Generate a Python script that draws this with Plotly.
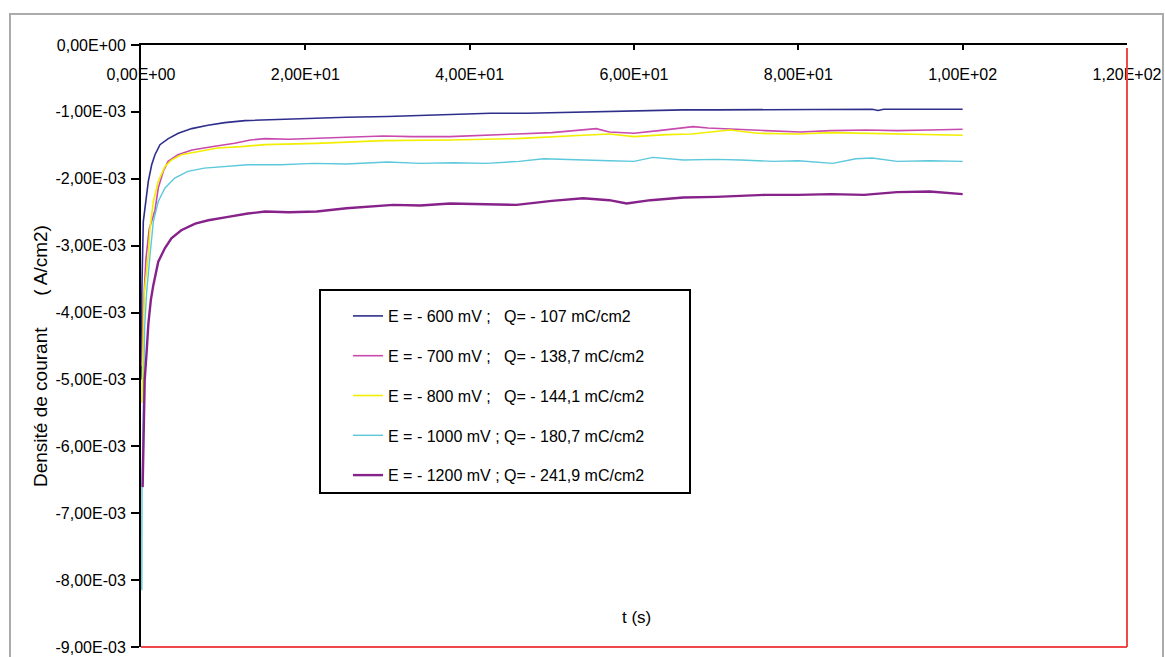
import plotly.graph_objects as go

# ---- data (current density in units of 1e-3 A/cm2) ----
t_600 = [0.05, 0.1, 0.28, 0.69, 0.89, 1.3, 1.7, 2.31, 3.32, 4.54, 6.17, 8.15, 10.2, 12.65, 15.1, 18, 21.4, 25, 30, 34.8,
         38, 42.5, 47, 53.8, 57, 62, 66, 70, 75, 80, 85, 89, 89.7, 90.4, 95, 100]
j_600 = [-5.0, -3.69, -2.64, -2.24, -2.04, -1.79, -1.64, -1.49, -1.40, -1.32, -1.25, -1.20, -1.16, -1.13, -1.12, -1.10,
         -1.09, -1.08, -1.07, -1.05, -1.04, -1.02, -1.02, -1.00, -0.99, -0.98, -0.97, -0.97, -0.97, -0.96, -0.96, -0.96,
         -0.98, -0.96, -0.96, -0.96]

t_700 = [0.1, 0.3, 0.6, 1.0, 1.7, 2.1, 2.7, 3.3, 4.5, 6.2, 8.6, 11.4, 13.3, 15.1, 18, 21.4, 25, 29.5, 33, 37.6, 41,
         45.7, 50, 55.4, 57, 60, 63, 67.2, 69, 72, 76, 80.2, 84, 88.3, 92, 96, 100]
j_700 = [-4.8, -3.9, -3.2, -2.75, -2.47, -2.14, -1.89, -1.74, -1.64, -1.57, -1.52, -1.47, -1.42, -1.40, -1.41, -1.40,
         -1.38, -1.36, -1.37, -1.37, -1.35, -1.33, -1.31, -1.25, -1.30, -1.32, -1.28, -1.22, -1.24, -1.26, -1.28, -1.30,
         -1.28, -1.27, -1.28, -1.27, -1.26]

t_800 = [0.1, 0.2, 0.3, 0.4, 0.89, 1.1, 1.5, 2.1, 2.9, 3.7, 4.9, 6.9, 9.3, 12.2, 15.1, 21.4, 29.5, 37.6, 45.7, 53.8,
         57, 60, 64, 67, 71.7, 75, 80, 84, 88, 92, 96, 100]
j_800 = [-5.35, -4.8, -4.2, -3.7, -3.14, -2.74, -2.34, -2.04, -1.82, -1.72, -1.64, -1.59, -1.54, -1.52, -1.49, -1.47,
         -1.43, -1.42, -1.40, -1.35, -1.33, -1.37, -1.34, -1.33, -1.27, -1.32, -1.33, -1.31, -1.32, -1.33, -1.34, -1.35]

t_1000 = [0.1, 0.12, 0.45, 0.6, 0.69, 1.1, 1.5, 2.1, 2.9, 4.1, 5.7, 7.7, 10.2, 13, 17, 21, 25, 30, 34, 38, 42, 46, 49,
          53, 57, 60, 62.3, 66, 70, 73, 77, 80, 84.2, 87, 89, 92, 96, 100]
j_1000 = [-8.15, -6.6, -4.21, -3.76, -3.69, -3.14, -2.64, -2.34, -2.14, -1.99, -1.89, -1.84, -1.82, -1.79, -1.79, -1.77,
          -1.78, -1.75, -1.77, -1.76, -1.77, -1.74, -1.70, -1.72, -1.73, -1.74, -1.68, -1.72, -1.71, -1.72, -1.74, -1.73,
          -1.77, -1.70, -1.69, -1.74, -1.73, -1.74]

t_1200 = [0.2, 0.3, 0.45, 0.7, 0.9, 1.2, 1.5, 2.1, 2.9, 3.7, 4.9, 6.6, 8.2, 10.6, 13.0, 15.1, 18, 21.4, 25, 30.7, 34,
          37.6, 41, 45.7, 50, 53.8, 57, 59.1, 62, 66, 70, 76.1, 80, 84, 88, 92, 96, 100]
j_1200 = [-6.61, -5.75, -5.01, -4.56, -4.16, -3.81, -3.59, -3.24, -3.04, -2.89, -2.77, -2.67, -2.62, -2.57, -2.52, -2.49,
          -2.50, -2.49, -2.44, -2.39, -2.40, -2.37, -2.38, -2.39, -2.33, -2.29, -2.32, -2.37, -2.32, -2.28, -2.27, -2.24,
          -2.24, -2.23, -2.24, -2.20, -2.19, -2.23]

NB = "\u00a0"
names = [
    "E = - 600 mV" + NB + ";" + NB * 3 + "Q= - 107 mC/cm2",
    "E = - 700 mV" + NB + ";" + NB * 3 + "Q= - 138,7 mC/cm2",
    "E = - 800 mV" + NB + ";" + NB * 3 + "Q= - 144,1 mC/cm2",
    "E = - 1000 mV ; Q= - 180,7 mC/cm2",
    "E = - 1200 mV ; Q= - 241,9 mC/cm2",
]
colors = ["#2E2F8A", "#C84AAE", "#F2EE00", "#5CC8DC", "#86228A"]
widths = [1.6, 1.6, 1.6, 1.4, 2.4]
series_t = [t_600, t_700, t_800, t_1000, t_1200]
series_j = [j_600, j_700, j_800, j_1000, j_1200]

x_ticks = [0, 20, 40, 60, 80, 100, 120]
x_ticktext = ["0,00E+00", "2,00E+01", "4,00E+01", "6,00E+01", "8,00E+01", "1,00E+02", "1,20E+02"]
y_ticks = [0, -1e-3, -2e-3, -3e-3, -4e-3, -5e-3, -6e-3, -7e-3, -8e-3, -9e-3]
y_ticktext = ["0,00E+00"] + ["-%d,00E-03" % k for k in range(1, 10)]

FONT = "Liberation Sans, Arial, sans-serif"

fig = go.Figure()
for i in range(5):
    fig.add_trace(go.Scatter(
        x=series_t[i], y=[v * 1e-3 for v in series_j[i]], mode="lines", name=names[i],
        legendgroup="g%d" % i, line=dict(color=colors[i], width=widths[i]),
    ))

# plot area in pixels: left 141, right 1127, top 45, bottom 647
W, H = 1165, 657
L, R, T, B = 141, 1127, 45, 647
pw, ph = R - L, B - T


def px(x):
    return (x - L) / pw


def py(y):
    return (B - y) / ph


fig.update_layout(
    width=W, height=H,
    margin=dict(l=L, r=W - R, t=T, b=H - B, autoexpand=False),
    paper_bgcolor="white", plot_bgcolor="white",
    font=dict(family=FONT, size=16, color="black"),
    showlegend=True,
    legend=dict(
        x=px(348), y=py(299), xanchor="left", yanchor="top",
        bgcolor="rgba(0,0,0,0)", borderwidth=0,
        font=dict(family=FONT, size=16, color="black"),
        tracegroupgap=16,
    ),
    xaxis=dict(
        range=[0, 120], side="top", tickvals=x_ticks, ticktext=x_ticktext,
        ticks="inside", ticklen=5, tickcolor="black", tickwidth=2,
        ticklabelposition="outside", ticklabelstandoff=-43,
        showline=True, linecolor="black", linewidth=2,
        showgrid=False, zeroline=False, automargin=False,
        tickfont=dict(family=FONT, size=16, color="black"),
    ),
    yaxis=dict(
        range=[-9e-3, 0], tickvals=y_ticks, ticktext=y_ticktext,
        ticks="outside", ticklen=8, tickcolor="black", tickwidth=2,
        ticklabelstandoff=2,
        showline=True, linecolor="black", linewidth=2,
        showgrid=False, zeroline=False, automargin=False,
        tickfont=dict(family=FONT, size=16, color="black"),
    ),
    shapes=[
        # outer chart frame
        dict(type="rect", xref="paper", yref="paper", x0=px(10), x1=px(1163), y0=py(662), y1=py(14),
             line=dict(color="#ABABAB", width=2), layer="below"),
        # legend box
        dict(type="rect", xref="paper", yref="paper", x0=px(320), x1=px(690), y0=py(493), y1=py(290),
             line=dict(color="black", width=2), fillcolor="white", layer="above"),
        # red plot-area border (right and bottom)
        dict(type="line", xref="paper", yref="paper", x0=1, x1=1, y0=0, y1=py(48),
             line=dict(color="#F04848", width=2), layer="above"),
        dict(type="line", xref="paper", yref="paper", x0=0, x1=1, y0=0, y1=0,
             line=dict(color="#F04848", width=2), layer="above"),
    ],
    annotations=[
        dict(text="Densité de courant" + NB * 6 + "( A/cm2)", xref="paper", yref="paper",
             x=px(40), y=py(356), textangle=-90, showarrow=False,
             font=dict(family=FONT, size=19, color="black"), xanchor="center", yanchor="middle"),
        dict(text="t (s)", xref="paper", yref="paper", x=px(636), y=py(617), showarrow=False,
             font=dict(family=FONT, size=17, color="black"), xanchor="center", yanchor="middle"),
    ],
)

fig.write_html("out.html", config={"displayModeBar": False},
               post_script="document.body.style.margin='0';document.body.style.overflow='hidden';")
